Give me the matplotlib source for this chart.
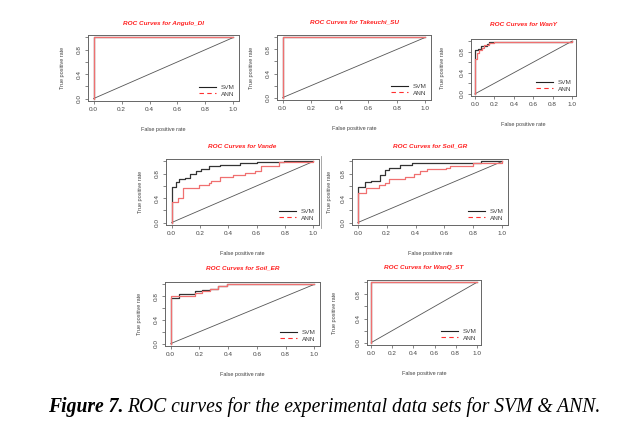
import matplotlib
matplotlib.use("Agg")
import matplotlib.pyplot as plt
from matplotlib.lines import Line2D

plt.rcParams['font.family'] = ['Liberation Sans', 'DejaVu Sans']

# data sets shown in the panels
titles = ["ROC Curves for Angulo_DI", "ROC Curves for Takeuchi_SU", "ROC Curves for WanY",
          "ROC Curves for Vande", "ROC Curves for Soil_GR", "ROC Curves for Soil_ER",
          "ROC Curves for WanQ_ST"]

# ROC step points (fpr where tpr jumps, tpr after the jump)
perfect_fpr = [0.0, 0.0, 1.0]
perfect_tpr = [0.0, 1.0, 1.0]

wany_svm_fpr = [0.0, 0.0, 0.034, 0.06, 0.12, 0.15, 0.4, 1.0, 1.0]
wany_svm_tpr = [0.0, 0.83, 0.85, 0.90, 0.95, 0.975, 0.985, 1.0, 1.0]
wany_ann_fpr = [0.0, 0.0, 0.024, 0.045, 0.07, 0.09, 0.15, 0.2, 1.0, 1.0]
wany_ann_tpr = [0.0, 0.66, 0.78, 0.83, 0.87, 0.93, 0.965, 0.985, 1.0, 1.0]

vande_svm_fpr = [0.0, 0.0, 0.03, 0.055, 0.095, 0.13, 0.175, 0.21, 0.26, 0.34, 0.48, 0.6, 0.79, 1.0]
vande_svm_tpr = [0.0, 0.58, 0.66, 0.71, 0.73, 0.79, 0.85, 0.87, 0.92, 0.95, 0.97, 0.985, 1.0, 1.0]
vande_ann_fpr = [0.0, 0.0, 0.047, 0.08, 0.19, 0.26, 0.275, 0.34, 0.43, 0.52, 0.59, 0.63, 0.76, 1.0]
vande_ann_tpr = [0.0, 0.34, 0.40, 0.57, 0.62, 0.64, 0.68, 0.74, 0.78, 0.81, 0.84, 0.93, 0.99, 1.0]

soilgr_svm_fpr = [0.0, 0.0, 0.05, 0.09, 0.155, 0.185, 0.215, 0.295, 0.375, 0.85, 1.0]
soilgr_svm_tpr = [0.0, 0.58, 0.66, 0.68, 0.78, 0.86, 0.90, 0.94, 0.97, 1.0, 1.0]
soilgr_ann_fpr = [0.0, 0.0, 0.055, 0.15, 0.19, 0.215, 0.33, 0.39, 0.43, 0.48, 0.61, 0.64, 0.80, 1.0]
soilgr_ann_tpr = [0.0, 0.49, 0.56, 0.61, 0.65, 0.72, 0.75, 0.79, 0.84, 0.88, 0.90, 0.93, 0.98, 1.0]

soiler_svm_fpr = [0.0, 0.0, 0.06, 0.17, 0.22, 0.275, 0.33, 0.39, 1.0]
soiler_svm_tpr = [0.0, 0.77, 0.83, 0.88, 0.91, 0.93, 0.97, 1.0, 1.0]
soiler_ann_fpr = [0.0, 0.0, 0.17, 0.22, 0.275, 0.33, 0.39, 1.0]
soiler_ann_tpr = [0.0, 0.80, 0.86, 0.88, 0.93, 0.97, 1.0, 1.0]

svm_fpr = [perfect_fpr, perfect_fpr, wany_svm_fpr, vande_svm_fpr, soilgr_svm_fpr, soiler_svm_fpr, perfect_fpr]
svm_tpr = [perfect_tpr, perfect_tpr, wany_svm_tpr, vande_svm_tpr, soilgr_svm_tpr, soiler_svm_tpr, perfect_tpr]
ann_fpr = [perfect_fpr, perfect_fpr, wany_ann_fpr, vande_ann_fpr, soilgr_ann_fpr, soiler_ann_fpr, perfect_fpr]
ann_tpr = [perfect_tpr, perfect_tpr, wany_ann_tpr, vande_ann_tpr, soilgr_ann_tpr, soiler_ann_tpr, perfect_tpr]

ticks = [0.0, 0.2, 0.4, 0.6, 0.8, 1.0]
ytick_labels = ["0.0", "", "0.4", "", "0.8", ""]

# panel boxes in pixels: left, right, top, bottom, ylabel offset
boxes = [(88, 239, 35, 101, 23), (277, 431, 35, 100, 23), (471, 576, 39, 96, 26),
         (166, 319, 159, 225, 23), (352, 508, 159, 225, 20), (165, 320, 282, 346, 23),
         (367, 481, 280, 345, 30)]
title_y = [23, 22, 25, 146, 146, 268, 268]

W, H = 632, 433
fig = plt.figure(figsize=(W / 100, H / 100), dpi=100)
fig.patch.set_facecolor("white")

for i, (l, r, t, b, yoff) in enumerate(boxes):
    w, h = r - l, b - t
    ax = fig.add_axes([l / W, 1 - b / H, w / W, h / H])
    ax.plot([0, 1], [0, 1], color="#555555", lw=0.6)
    ax.plot(svm_fpr[i], svm_tpr[i], color="#333333", lw=0.9, drawstyle="steps-post")
    ax.plot(ann_fpr[i], ann_tpr[i], color="#f07070", lw=0.9, drawstyle="steps-post")
    ax.set_xlim(-0.04, 1.04)
    ax.set_ylim(-0.04, 1.04)
    ax.set_xticks(ticks)
    ax.set_xticklabels([f"{v:.1f}" for v in ticks])
    ax.set_yticks(ticks)
    ax.set_yticklabels(ytick_labels, rotation=90, va="center")
    ax.tick_params(length=2.5, width=0.5, colors="#555555", labelsize=4.6, pad=2,
                   labelcolor="#444444")
    for s in ax.spines.values():
        s.set_color("#666666")
        s.set_linewidth(0.7)
    ax.set_xlabel("False positive rate", fontsize=4.0, color="#444444")
    ax.xaxis.set_label_coords(0.5, -26 / h)
    ax.set_ylabel("True positive rate", fontsize=4.0, color="#444444")
    ax.yaxis.set_label_coords(-yoff / w, 0.5)
    ax.text(0.5, 1 + (t - title_y[i]) / h, titles[i], transform=ax.transAxes,
            ha="center", va="center", fontsize=4.6, color="#ff2020",
            fontweight="bold", fontstyle="italic")
    handles = [Line2D([], [], color="#222222", lw=0.8),
               Line2D([], [], color="#ff3030", lw=0.8, ls=(0, (4, 3)))]
    ax.legend(handles, ["SVM", "ANN"], loc="lower right", frameon=False, fontsize=4.6,
              handlelength=2.6, labelspacing=0.2, borderaxespad=0.3, handletextpad=0.8,
              labelcolor="#444444")

# thin crop edge between the middle panels
fig.add_artist(Line2D([321 / W, 321 / W], [1 - 228 / H, 1 - 156 / H], color="#999999", lw=0.6))

cap1 = fig.text(48 / W, 1 - 407 / H, "Figure 7.", fontsize=14.1, family="Liberation Serif",
                fontweight="bold", fontstyle="italic", va="center", ha="left")
fig.draw_without_rendering()
plt.annotate("ROC curves for the experimental data sets for SVM & ANN.", xy=(1, 0),
             xycoords=cap1, xytext=(3, 0), textcoords="offset points", fontsize=14.1,
             family="Liberation Serif", fontstyle="italic", va="bottom", ha="left")

fig.savefig("out.png", dpi=100, facecolor="white")
